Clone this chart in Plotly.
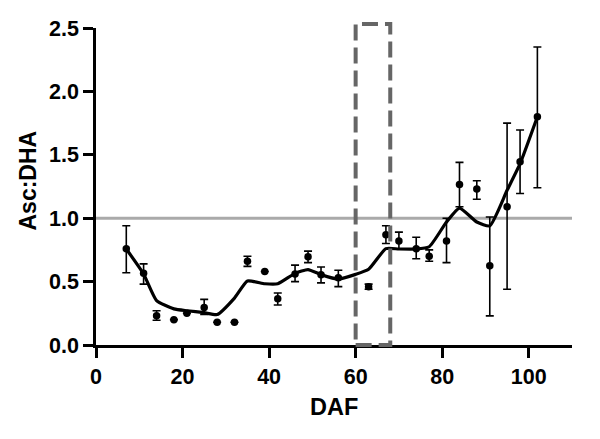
"""Asc:DHA ratio over days after flowering, with smoothed trend."""

import plotly.graph_objects as go

# measured points
daf = [7, 11, 14, 18, 21, 25, 28, 32, 35, 39, 42, 46, 49, 52, 56, 63, 67,
       70, 74, 77, 81, 84, 88, 91, 95, 98, 102]
ratio = [0.76, 0.565, 0.23, 0.20, 0.25, 0.295, 0.18, 0.18, 0.66, 0.58, 0.365,
         0.56, 0.695, 0.555, 0.53, 0.46, 0.87, 0.82, 0.76, 0.70, 0.82, 1.265,
         1.23, 0.625, 1.09, 1.445, 1.80]
err_up = [0.18, 0.075, 0.04, 0.0, 0.0, 0.065, 0.0, 0.0, 0.04, 0.0, 0.045,
          0.07, 0.045, 0.06, 0.06, 0.02, 0.07, 0.07, 0.09, 0.05, 0.18, 0.175,
          0.065, 0.385, 0.66, 0.25, 0.55]
err_down = [0.19, 0.085, 0.035, 0.0, 0.0, 0.055, 0.0, 0.0, 0.04, 0.0, 0.05,
            0.06, 0.045, 0.065, 0.07, 0.02, 0.07, 0.065, 0.08, 0.04, 0.17, 0.175,
            0.08, 0.395, 0.65, 0.25, 0.56]

# smoothed trend
trend_x = [7, 11, 14, 18, 21, 25, 28, 32, 35, 39, 42, 46, 49, 52, 56, 60, 63,
           67, 70, 74, 77, 81, 84, 88, 91, 95, 98, 102]
trend_y = [0.757, 0.56, 0.35, 0.285, 0.27, 0.255, 0.24, 0.37, 0.505, 0.483,
           0.483, 0.565, 0.595, 0.555, 0.52, 0.557, 0.597, 0.76, 0.757, 0.757,
           0.775, 0.97, 1.08, 0.97, 0.94, 1.22, 1.43, 1.80]

x_ticks = [0, 20, 40, 60, 80, 100]
y_ticks = [0.0, 0.5, 1.0, 1.5, 2.0, 2.5]
threshold = 1.0
window = (60, 68)

bold = dict(color="black", family="Liberation Sans", weight="bold")

fig = go.Figure()

fig.add_trace(go.Scatter(
    x=daf, y=ratio, mode="markers",
    marker=dict(color="black", size=7.5),
    error_y=dict(type="data", symmetric=False, array=err_up, arrayminus=err_down,
                 color="black", thickness=1.6, width=4),
    showlegend=False,
))
fig.add_trace(go.Scatter(
    x=trend_x, y=trend_y, mode="lines",
    line=dict(color="black", width=3.2, shape="spline", smoothing=0.5),
    showlegend=False,
))

# reference line at ratio 1
fig.add_shape(type="line", xref="x", yref="y", x0=0, x1=110, y0=threshold, y1=threshold,
              line=dict(color="#aaaaaa", width=3), layer="below")
# dashed window (top pokes above the axis range, so use paper y)
fig.add_shape(type="rect", xref="x", yref="paper", x0=window[0], x1=window[1], y0=0, y1=1.013,
              line=dict(color="#666666", width=4, dash="16px,7px"))

axis_common = dict(
    showline=True, linecolor="black", linewidth=2.5,
    ticks="outside", ticklen=10, tickwidth=2.5, tickcolor="black",
    showgrid=False, zeroline=False, automargin=False,
    tickfont=dict(size=21.5, **bold),
)

fig.update_xaxes(range=[0, 110], tickvals=x_ticks, ticktext=[str(v) for v in x_ticks],
                 **axis_common)
fig.update_yaxes(range=[0, 2.5], tickvals=y_ticks, ticktext=[f"{v:.1f}" for v in y_ticks],
                 **axis_common)

# axis titles placed by hand so they sit where the original has them
fig.add_annotation(text="DAF", xref="paper", yref="paper", x=0.5, y=0,
                   xanchor="center", yanchor="middle", yshift=-62, showarrow=False,
                   font=dict(size=23.5, **bold))
fig.add_annotation(text="Asc:DHA", xref="paper", yref="paper", x=0, y=0.5,
                   xanchor="center", yanchor="middle", xshift=-69, yshift=6,
                   textangle=-90, showarrow=False, font=dict(size=23, **bold))

# page body has an 8px margin, so the figure is sized to fit the window
fig.update_layout(
    template="none",
    width=592, height=431,
    margin=dict(l=88, r=28, t=20, b=94),
    plot_bgcolor="white", paper_bgcolor="white",
    font=dict(family="Liberation Sans"),
)

fig.write_html("out.html")
